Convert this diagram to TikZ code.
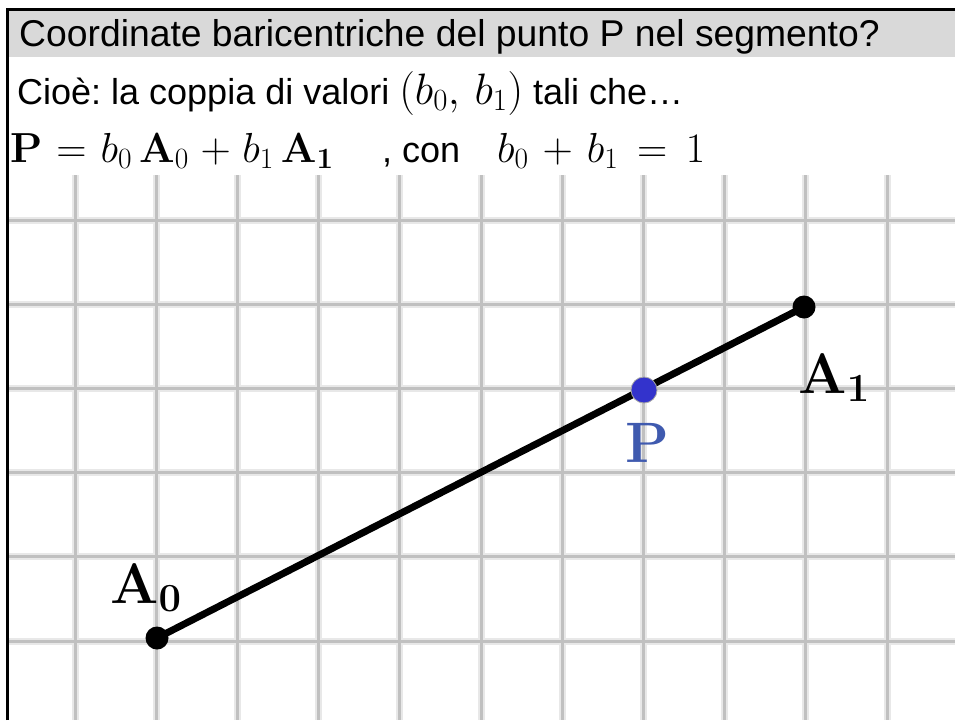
\RequirePackage{fix-cm}
\documentclass[tikz,border=0pt]{standalone}
\usepackage[no-math]{fontspec}
\setmainfont{Liberation Sans}
\frenchspacing
\definecolor{bandgray}{RGB}{217,217,217}
\definecolor{gridcore}{RGB}{192,192,192}
\definecolor{gridhalo}{RGB}{232,232,232}
\definecolor{pblue}{RGB}{51,51,204}
\definecolor{plabel}{RGB}{63,90,175}
\newcommand{\bigmath}[1]{{\fontsize{44}{46}\selectfont$#1$}}
\tikzset{
  gridhalo/.style={draw=gridhalo, line width=7pt},
  gridcore/.style={draw=gridcore, line width=3pt},
  ttl/.style={anchor=base west, inner sep=0pt, font=\fontsize{37.3}{40}\selectfont},
  txt/.style={anchor=base west, inner sep=0pt, font=\fontsize{36}{40}\selectfont},
  mth/.style={anchor=base west, inner sep=0pt, font=\fontsize{42}{46}\selectfont},
  lbl/.style={inner sep=0pt, font=\fontsize{57}{60}\selectfont},
  blackdot/.style={circle, fill=black, inner sep=0pt, minimum size=23pt},
  bluedot/.style={circle, fill=pblue, draw=gray!70, line width=0.8pt, inner sep=0pt, minimum size=26pt},
  seg/.style={line width=7pt, black}
}
\begin{document}
\begin{tikzpicture}[x=1pt,y=-1pt]
\useasboundingbox[fill=white] (0,0) rectangle (955,720);
% title band
\fill[bandgray] (8,10) rectangle (955,57);
% frame
\draw[line width=3pt] (7,720) -- (7,9) -- (955,9);
% grid
\foreach \i in {0,...,10} {
  \draw[gridhalo] ({75+81.2*\i},175) -- ({75+81.2*\i},720);
}
\foreach \j in {0,...,5} {
  \draw[gridhalo] (9,{220+84.2*\j}) -- (955,{220+84.2*\j});
}
\foreach \i in {0,...,10} {
  \draw[gridcore] ({75+81.2*\i},175) -- ({75+81.2*\i},720);
}
\foreach \j in {0,...,5} {
  \draw[gridcore] (9,{220+84.2*\j}) -- (955,{220+84.2*\j});
}
% texts
\node[ttl] (t1) at (19,46) {Coordinate baricentriche del punto P nel segmento?};
\node[txt] (t2) at (17,104) {Cioè: la coppia di valori \bigmath{(b_0,\,b_1)} tali che…};
\node[mth] (t3a) at (10,162) {$\medmuskip=5mu\relax\thickmuskip=6mu\relax\mathbf{P}=b_0\,\mathbf{A}_0+b_1\,\mathbf{A}_{\mathbf{1}}$};
\node[txt] (t3b) at (382,162) {, con};
\node[mth] (t3c) at (497,162) {$\medmuskip=6mu\relax\thickmuskip=8mu\relax b_0+b_1=1$};
% segment and points
\coordinate (a0) at (157,638);
\coordinate (a1) at (804,307);
\coordinate (p) at (644,390);
\draw[seg] (a0) -- (a1);
\node[blackdot] (A0) at (a0) {};
\node[blackdot] (A1) at (a1) {};
\node[bluedot] (P) at (p) {};
% labels
\node[lbl] (LA0) at (146,588) {$\mathbf{A}_{\mathbf{0}}$};
\node[lbl] (LA1) at (834,378) {$\mathbf{A}_{\mathbf{1}}$};
\node[lbl, text=plabel] (LP) at (647,443) {$\mathbf{P}$};
\end{tikzpicture}
\end{document}
